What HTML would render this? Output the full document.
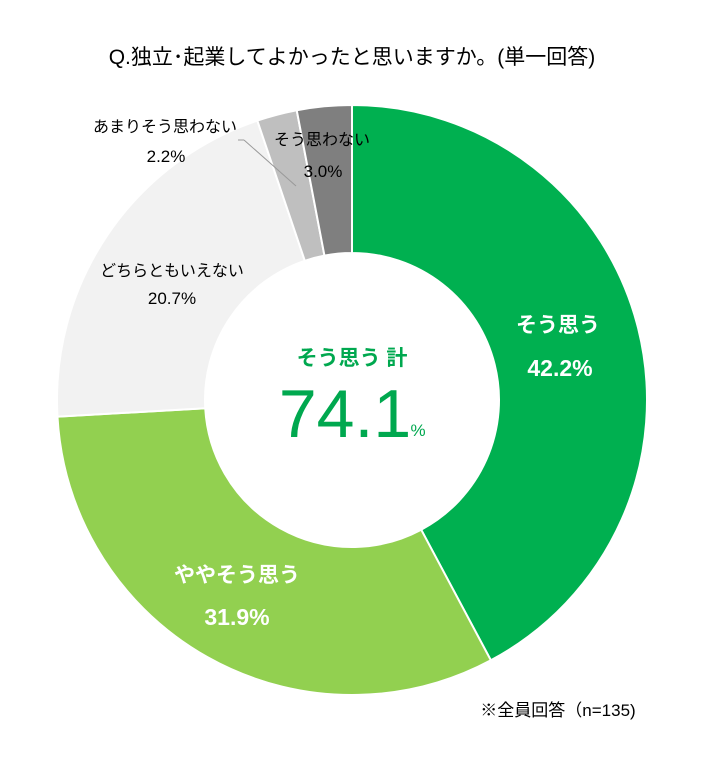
<!DOCTYPE html>
<html><head><meta charset="utf-8"><style>
body{margin:0;background:#fff;}
svg text{font-family:"Liberation Sans","Noto Sans CJK JP",sans-serif;}
</style></head><body>
<svg id="s" width="717" height="757" viewBox="0 0 717 757" xmlns="http://www.w3.org/2000/svg">
<rect width="717" height="757" fill="#fff"/>
<g id="pie"></g>
<line x1="238" y1="140" x2="244" y2="140" stroke="#999" stroke-width="1"/>
<line x1="244" y1="140" x2="296" y2="186" stroke="#999" stroke-width="1"/>
<text x="352" y="64" font-size="21" text-anchor="middle" fill="#000">Q.独立･起業してよかったと思いますか。(単一回答)</text>
<text x="558" y="332" font-size="21" font-weight="bold" fill="#fff" text-anchor="middle">そう思う</text>
<text x="560" y="376" font-size="23" font-weight="bold" fill="#fff" text-anchor="middle">42.2%</text>
<text x="237" y="582" font-size="21" font-weight="bold" fill="#fff" text-anchor="middle">ややそう思う</text>
<text x="237" y="625" font-size="23" font-weight="bold" fill="#fff" text-anchor="middle">31.9%</text>
<text x="172" y="276" font-size="16" fill="#000" text-anchor="middle">どちらともいえない</text>
<text x="172" y="304" font-size="17" fill="#000" text-anchor="middle">20.7%</text>
<text x="165" y="132" font-size="16" fill="#000" text-anchor="middle">あまりそう思わない</text>
<text x="166" y="162" font-size="17" fill="#000" text-anchor="middle">2.2%</text>
<text x="322" y="145" font-size="16" fill="#000" text-anchor="middle">そう思わない</text>
<text x="323" y="177" font-size="17" fill="#000" text-anchor="middle">3.0%</text>
<text x="352" y="365" font-size="21" font-weight="bold" fill="#00a84f" text-anchor="middle">そう思う 計</text>
<text x="345" y="437" font-size="68" fill="#00a84f" text-anchor="middle">74.1</text>
<text x="418" y="436" font-size="17" fill="#00a84f" text-anchor="middle">%</text>
<text x="558" y="716" font-size="17" fill="#000" text-anchor="middle">※全員回答（n=135)</text>
</svg>
<script>
var cx=352,cy=400,R=295,r=147;
var d=[[42.2,"#00b050"],[31.9,"#92d050"],[20.7,"#f2f2f2"],[2.2,"#bfbfbf"],[3.0,"#7f7f7f"]];
var a=0,g=document.getElementById("pie"),h="";
function p(rad,ang){return [cx+rad*Math.sin(ang),cy-rad*Math.cos(ang)];}
d.forEach(function(s){var a2=a+s[0]/100*2*Math.PI;var L=(a2-a)>Math.PI?1:0;
var A=p(R,a),B=p(R,a2),C=p(r,a2),D=p(r,a);
h+='<path d="M'+A+' A'+R+' '+R+' 0 '+L+' 1 '+B+' L'+C+' A'+r+' '+r+' 0 '+L+' 0 '+D+'Z" fill="'+s[1]+'" stroke="#fff" stroke-width="2"/>';a=a2;});
g.innerHTML=h;
</script>
</body></html>
